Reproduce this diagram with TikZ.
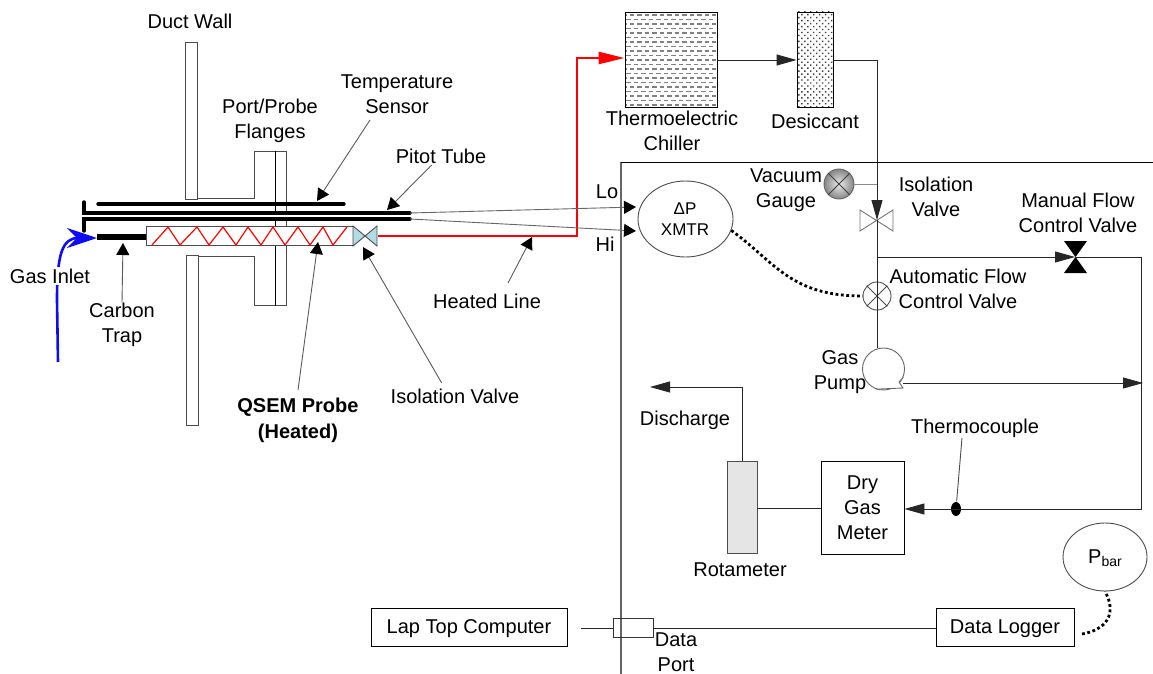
\documentclass[tikz,border=0pt]{standalone}
\usepackage{fontspec}
\setmainfont{Liberation Sans}
\usetikzlibrary{arrows.meta, positioning, shapes.geometric, patterns.meta}
\definecolor{valveblue}{rgb}{.70,.86,.90}
\definecolor{leadgray}{gray}{.35}
\definecolor{inletblue}{rgb}{.05,.05,.95}

\begin{document}
\begin{tikzpicture}[x=1pt, y=-1pt, line width=.9pt,
  every node/.style={font=\fontsize{20}{25}\selectfont},
  lbl/.style={align=center, inner sep=0pt},
  box/.style={rectangle, draw, inner sep=0pt, align=center},
  wall/.style={draw=black!70, fill=white},
  pipe/.style={draw=black!85},
  arrow/.style={pipe, -{Triangle[length=20pt,width=11pt]}},
  leader/.style={draw=leadgray, -{Triangle[length=12pt,width=13pt,color=black]}},
  tube/.style={line width=3.4pt, line cap=round},
  hot/.style={draw=red, line width=2.4pt},
  signal/.style={line width=2.8pt, dash pattern=on 2.8pt off 2.6pt}]
\useasboundingbox (0,0) rectangle (1153,674);

% enclosure
\coordinate (encTL) at (621,162);
\coordinate (encTR) at (1153,162);
\coordinate (encBL) at (621,674);
\draw[draw=black!60, line width=1.2pt] (encBL) -- (encTL);
\draw (encTL) -- (encTR);

% duct and flanges
\node[box, wall, minimum width=12pt, minimum height=157pt] (ductup) at (191.5,120.5) {};
\node[box, wall, minimum width=12pt, minimum height=170pt] (ductlow) at (192,340) {};
\coordinate (flup) at (275.5,151);
\coordinate (fllow) at (275.5,305.5);
\draw[draw=black!70] (197,198) -- (254,198) -- (254,151) -- (286,151) -- (286,305.5) -- (254,305.5) -- (254,256) -- (198,256);
\draw (flup) -- (fllow);

% probe
\draw[tube, white, line width=8pt] (98,216) -- (410,216);
\draw[tube] (98,204) -- (344,204);
\draw[tube] (84,202) -- (84,213) -- (410,213);
\draw[tube] (84,231) -- (84,219) -- (410,219);
\node[box, draw=black!70, fill=white, minimum width=207pt, minimum height=19pt] (probe) at (249.5,235.5) {};
\draw[draw=black, line width=6pt] (97,237) -- (probe.west |- 0,237);
\draw[draw=red, line width=1.2pt] (152,245) -- (168,227) -- (180,245) -- (197,227) -- (209,245) -- (223,227) -- (236,245) -- (248,227) -- (261,245) -- (273,227) -- (285,245) -- (298,227) -- (310,245) -- (323,227) -- (333,245) -- (347,227);
\coordinate (pv) at (365,236);
\draw[draw=black!70, fill=valveblue] (353,226) -- (377,246) -- (377,226) -- (353,246) -- cycle;

% gas inlet
\coordinate (inlet) at (58,362);
\draw[draw=inletblue, line width=2.6pt, -{Stealth[length=30pt,width=20pt,inset=10pt]}] (inlet) -- (57,300) .. controls (57,255) and (62,238) .. (97,238);
\node[lbl, fill=white, inner ysep=2pt] (lblinlet) at (50,276) {Gas Inlet};

% heated line
\node[box, minimum width=92pt, minimum height=95pt] (chiller) at (671,59.5) {};
\foreach \yy [count=\nn] in {15,19.5,...,105} {\draw[draw=black!50, line width=1.2pt, dash pattern=on 4.5pt off 3pt, dash phase=3.75*\nn] (626,\yy) -- (716,\yy);}
\node[box, pattern={Dots[distance=4.2pt,radius=1pt,angle=45]}, pattern color=black!75, minimum width=36pt, minimum height=95pt] (desiccant) at (815,59.5) {};
\coordinate (hlA) at (378,236);
\coordinate (hlB) at (577,236);
\coordinate (hlC) at (577,58);
\draw[hot, -{Triangle[length=26pt,width=12pt]}] (hlA) -- (hlB) -- (hlC) -- (chiller.west |- hlC);

% sampling train
\coordinate (isov) at (877,220);
\node[box, circle, draw=black!70, minimum size=28pt] (acv) at (877,296) {};
\draw[draw=black!70] (acv.45) -- (acv.225) (acv.135) -- (acv.-45);
\node[box, circle, draw=black!60, shade, inner color=gray!15, outer color=gray!95, minimum size=30pt] (gauge) at (839,184) {};
\draw[draw=black!75] (gauge.45) -- (gauge.225) (gauge.135) -- (gauge.-45);
\draw[draw=black!45] (gauge.east) -- (gauge -| isov);
\draw[draw=black!55] (860,210) -- (893,231) -- (893,210) -- (860,231) -- cycle;
\draw[arrow] (chiller.east |- 0,60) -- (desiccant.west |- 0,60);
\draw[arrow] (desiccant.east |- 0,60) -- (isov |- 0,60) -- (isov);
\node[box, circle, draw=black!60, minimum size=42pt] (pump) at (883.5,369) {};
\draw[draw=black!60, fill=white] (pump.-110) -- (903,388) -- (899,382) -- (pump.-22);
\draw[pipe] (isov) -- (pump.north -| isov);
\coordinate (pout) at (903,383);
\coordinate (rjoin) at (1143,383);
\draw[arrow] (pout) -- (rjoin);
\coordinate (mv) at (1075,257);
\coordinate (mfrom) at (877,257);
\coordinate (mright) at (1141,257);
\fill (1064,241) -- (1087,241) -- (1064,273) -- (1087,273) -- cycle;
\draw[arrow] (mfrom) -- (mv);
\node[box, minimum width=83pt, minimum height=93pt] (meter) at (862.5,507.5) {Dry\\Gas\\Meter};
\node[box, draw=black!70, fill=black!10, minimum width=30pt, minimum height=92pt] (rota) at (742,507) {};
\node[circle, fill, inner sep=0pt, minimum size=10pt, yscale=1.4] (tc) at (956,509) {};
\draw[arrow] (mv) -- (mright) -- (1141,509) -- (meter.east |- 0,509);
\draw[pipe] (rota.east |- 0,508) -- (meter.west |- 0,508);
\coordinate (disc) at (650,387);
\draw[arrow] (rota.north) -- (742,387) -- (disc);

% transmitter
\node[box, ellipse, draw=black!70, minimum width=95pt, minimum height=76pt] (xmtr) at (685.5,219) {};
\node[lbl, font=\fontsize{17}{21}\selectfont] (xmtrtxt) at (685,219) {ΔP\\XMTR};
\draw[leader, draw=black!60] (410,213) -- (636,207);
\draw[leader, draw=black!60] (410,219) -- (636,231);
\draw[signal] (xmtr.-14) .. controls (775,262) and (790,296) .. (acv.west);

% data
\node[box, text depth=0pt, minimum width=196pt, minimum height=38pt] (laptop) at (469,627) {Lap Top Computer};
\node[box, draw=black!80, minimum width=40pt, minimum height=19pt] (dport) at (633,627.5) {};
\node[box, text depth=0pt, minimum width=138pt, minimum height=38pt] (logger) at (1005,627) {Data Logger};
\node[box, ellipse, draw=black!70, minimum width=84pt, minimum height=68pt] (pbar) at (1105,557) {};
\node[lbl] (pbartxt) at (1105,558) {P\raisebox{-3pt}{\fontsize{14}{14}\selectfont bar}};
\coordinate (lapend) at (581,628);
\draw[pipe] (lapend) -- (dport.west |- lapend);
\draw[pipe] (dport.east |- lapend) -- (logger.west |- lapend);
\draw[signal] (1082,634) .. controls (1105,630) and (1118,615) .. (pbar.-90);

% labels
\node[lbl] (lblduct) at (190,21.5) {Duct Wall};
\node[lbl] (lblflange) at (270,121) {Port/Probe\\Flanges};
\node[lbl] (lbltemp) at (397,94) {Temperature\\Sensor};
\node[lbl] (lblpitot) at (441,156) {Pitot Tube};
\node[lbl] (lblcarbon) at (122,325) {Carbon\\Trap};
\node[lbl, font=\fontsize{20}{26}\selectfont\bfseries] (lblqsem) at (298,420) {QSEM Probe\\(Heated)};
\node[lbl] (lbliso) at (455,396) {Isolation Valve};
\node[lbl] (lblheat) at (487,301) {Heated Line};
\node[lbl] (lbllo) at (607,192) {Lo};
\node[lbl] (lblhi) at (605,244) {Hi};
\node[lbl] (lblchiller) at (672,131) {Thermoelectric\\Chiller};
\node[lbl] (lbldes) at (815,121) {Desiccant};
\node[lbl] (lblgauge) at (786,190) {Vacuum\\Gauge};
\node[lbl] (lbliso2) at (936,197) {Isolation\\Valve};
\node[lbl] (lblman) at (1078,213) {Manual Flow\\Control Valve};
\node[lbl] (lblauto) at (958,289) {Automatic Flow\\Control Valve};
\node[lbl] (lblpump) at (840,372) {Gas\\Pump};
\node[lbl] (lbldisc) at (685,420) {Discharge};
\node[lbl] (lbltc) at (975,428) {Thermocouple};
\node[lbl] (lblrota) at (740,570) {Rotameter};
\node[lbl] (lblport) at (676,652) {Data\\Port};

% leaders
\coordinate (tipcarbon) at (123,243);
\coordinate (tiptemp) at (317,201);
\coordinate (tippitot) at (387,210);
\coordinate (tipqsem) at (318,242);
\coordinate (tipiso) at (363,247);
\coordinate (tipheat) at (532,237);
\coordinate (starttemp) at (370,120);
\coordinate (startpitot) at (431.7,165);
\coordinate (startqsem) at (298,390);
\coordinate (startiso) at (441.7,383);
\coordinate (startheat) at (508,283);
\draw[leader] (lblcarbon.north) -- (tipcarbon);
\draw[leader] (starttemp) -- (tiptemp);
\draw[leader] (startpitot) -- (tippitot);
\draw[leader] (startqsem) -- (tipqsem);
\draw[leader] (startiso) -- (tipiso);
\draw[leader] (startheat) -- (tipheat);
\draw[draw=black!70] (lbltc.south) ++(-13,0) -- (tc);
\end{tikzpicture}
\end{document}
